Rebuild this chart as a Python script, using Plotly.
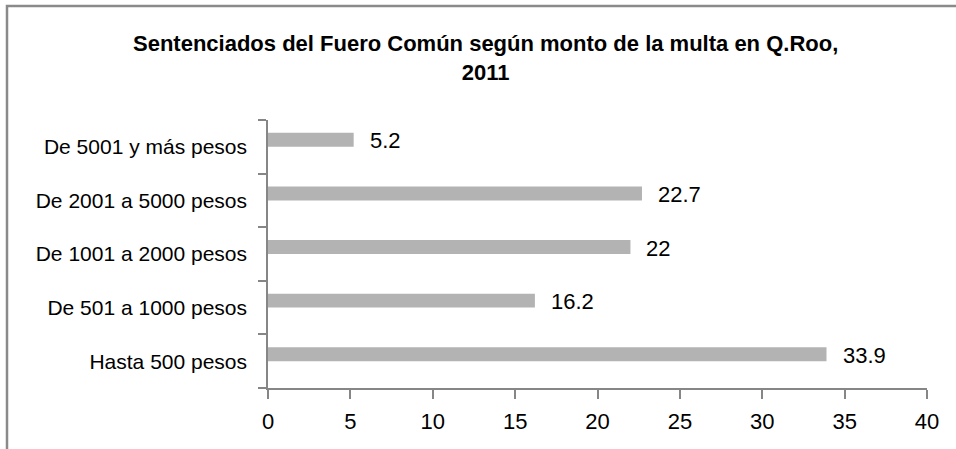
import plotly.graph_objects as go

categories = ["Hasta 500 pesos", "De 501 a 1000 pesos", "De 1001 a 2000 pesos",
              "De 2001 a 5000 pesos", "De 5001 y más pesos"]
values = [33.9, 16.2, 22, 22.7, 5.2]
value_labels = ["33.9", "16.2", "22", "22.7", "5.2"]
x_ticks = [0, 5, 10, 15, 20, 25, 30, 35, 40]
title_text = "Sentenciados del Fuero Común según monto de la multa en Q.Roo,<br>2011"

FONT = "Liberation Sans, Arial, sans-serif"
W, H = 956, 449
L, R, T, B = 268, 29, 120, 61
pw, ph = W - L - R, H - T - B
BAR_W = 0.26

fig = go.Figure()
fig.add_trace(go.Bar(
    x=values, y=categories, orientation="h",
    width=BAR_W, offset=0,
    marker=dict(color="#b3b3b3", line=dict(width=0)),
    hoverinfo="x+y",
))

label_shift = BAR_W / 2 * ph / len(categories)
for v, c, t in zip(values, categories, value_labels):
    fig.add_annotation(x=v, y=c, text=t, showarrow=False, xanchor="left",
                       xshift=14, yshift=label_shift - 1,
                       font=dict(family=FONT, size=22, color="#000"))

def px_x(p):
    return (p - L) / pw
def px_y(p):
    return (H - B - p) / ph
fig.add_shape(type="rect", xref="paper", yref="paper",
              x0=px_x(7), x1=px_x(W + 10), y0=px_y(H + 10), y1=px_y(6),
              line=dict(color="#8a8a8a", width=2.5), layer="above")

fig.update_layout(
    width=W, height=H,
    margin=dict(l=L, r=R, t=T, b=B, autoexpand=False),
    paper_bgcolor="white", plot_bgcolor="white",
    showlegend=False,
    title=dict(text="<b>" + title_text + "</b>", x=0.508, xanchor="center",
               y=1 - 51 / H, yanchor="top", yref="container", automargin=False,
               font=dict(family=FONT, size=22, color="#000")),
    font=dict(family=FONT, size=22, color="#000"),
)
fig.update_xaxes(range=[0, 40], tickvals=x_ticks, ticktext=[str(v) for v in x_ticks],
                 automargin=False,
                 showgrid=False, zeroline=False, showline=True, linecolor="#868686", linewidth=1.5,
                 ticks="outside", ticklen=9, tickcolor="#868686", tickwidth=1.5,
                 ticklabelstandoff=4,
                 tickfont=dict(family=FONT, size=22, color="#000"))
fig.update_yaxes(type="category", categoryorder="array", categoryarray=categories,
                 range=[-0.5, 4.5], tickson="boundaries", automargin=False,
                 showgrid=False, zeroline=False, showline=True, linecolor="#868686", linewidth=1.5,
                 ticks="outside", ticklen=8, tickcolor="#868686", tickwidth=1.5,
                 ticklabelstandoff=15,
                 tickfont=dict(family=FONT, size=21, color="#000"))

fig.write_html("out.html", config={"displayModeBar": False},
               post_script="document.body.style.margin='0';document.body.style.overflow='hidden';")
